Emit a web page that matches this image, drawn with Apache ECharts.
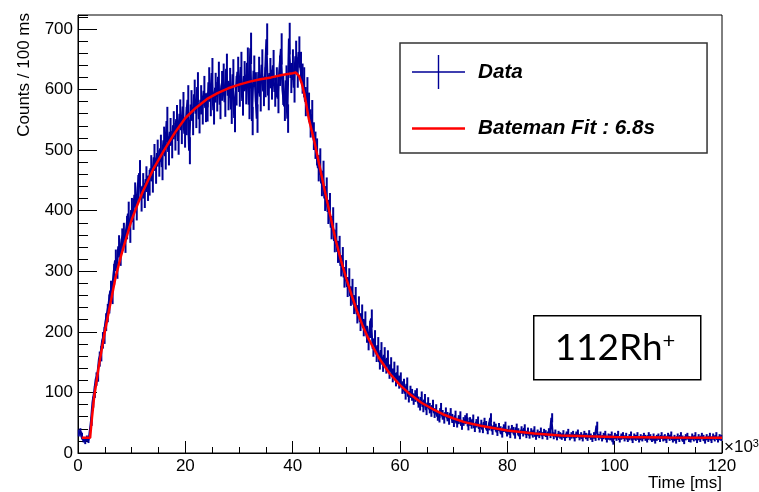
<!DOCTYPE html>
<html><head><meta charset="utf-8">
<script src="https://cdn.jsdelivr.net/npm/echarts@6/dist/echarts.min.js"></script>
<style>html,body{margin:0;padding:0;background:#fff}#c{width:759px;height:492px}</style>
</head><body><div id="c"></div>
<script>
// ---- data (time in units of 10^3 ms) ----
const xTickLabels = [0, 20, 40, 60, 80, 100, 120];
const yTickLabels = [0, 100, 200, 300, 400, 500, 600, 700];
const yMax = 723;
const binWidth = 0.3;
const counts = [
 33, 35, 28, 22, 19, 24, 21, 30, 52, 84,
 101, 122, 129, 155, 164, 186, 194, 216, 231, 246,
 268, 262, 295, 318, 305, 341, 327, 352, 361, 349,
 372, 395, 366, 401, 388, 426, 404, 438, 462, 419,
 441, 425, 452, 437, 446, 470, 451, 488, 466, 495,
 478, 503, 472, 516, 490, 548, 497, 530, 509, 541,
 522, 551, 515, 560, 533, 572, 527, 548, 583, 499,
 575, 548, 592, 560, 604, 551, 583, 566, 598, 570,
 571, 612, 580, 627, 566, 603, 588, 621, 575, 606,
 618, 579, 634, 590, 611, 567, 625, 553, 598, 629,
 596, 637, 581, 622, 600, 644, 575, 668, 548, 631,
 604, 552, 629, 588, 641, 597, 612, 683, 590, 627,
 608, 640, 596, 612, 585, 631, 667, 599, 572, 615,
 552, 684, 619, 641, 603, 655, 628, 662, 637, 618,
 612, 580, 596, 571, 544, 559, 523, 508, 497, 470,
 481, 445, 461, 420, 434, 398, 409, 372, 386, 350,
 361, 332, 340, 309, 322, 290, 301, 274, 288, 259,
 271, 245, 258, 229, 243, 216, 230, 207, 219, 196,
 183, 204, 222, 172, 189, 163, 178, 150, 170, 146,
 162, 143, 157, 134, 146, 128, 139, 121, 133, 117,
 122, 108, 112, 98, 114, 93, 101, 96, 89, 94,
 97, 84, 79, 92, 76, 88, 71, 83, 74, 68,
 79, 66, 72, 61, 58, 74, 63, 56, 67, 60,
 54, 66, 57, 50, 62, 49, 55, 61, 45, 52,
 55, 58, 44, 52, 47, 56, 41, 49, 53, 40,
 48, 39, 51, 46, 37, 44, 58, 36, 45, 42,
 34, 43, 38, 31, 41, 45, 33, 39, 30, 40,
 37, 29, 42, 35, 28, 38, 33, 41, 30, 36,
 29, 35, 31, 38, 27, 33, 30, 36, 28, 34,
 32, 27, 35, 30, 58, 28, 33, 26, 31, 29,
 27, 32, 25, 30, 34, 26, 29, 31, 24, 30,
 33, 26, 29, 24, 31, 28, 25, 32, 27, 23,
 29, 25, 45, 26, 30, 24, 28, 31, 22, 27,
 26, 30, 18, 28, 25, 31, 22, 27, 29, 24,
 28, 23, 26, 30, 21, 27, 25, 29, 22, 26,
 24, 28, 25, 22, 29, 26, 23, 27, 20, 25,
 27, 23, 29, 24, 26, 21, 28, 25, 30, 22,
 25, 20, 27, 23, 29, 24, 19, 26, 28, 23,
 22, 27, 24, 29, 21, 26, 23, 28, 25, 20,
 26, 23, 28, 21, 27, 24, 29, 22, 26, 25
];
const fitTime = [0.7, 2.25, 2.6, 3, 4, 5, 6, 7, 8, 9, 10, 11, 12, 14, 16, 18, 20, 22, 24, 26, 28, 30, 32, 34, 36, 38, 40, 40.6, 41.2, 41.7, 42.2, 43, 44, 45, 46, 47, 48, 49, 50, 51, 52, 53, 54, 56, 58, 60, 62, 64, 66, 68, 70, 72, 75, 80, 85, 90, 95, 100, 110, 120];
const fitCounts = [25, 25, 58, 92, 150, 200, 245, 290, 325, 355, 385, 408, 430, 468, 499, 528, 553, 570, 584, 594, 602, 608, 613, 617, 620, 624, 627, 628, 622, 610, 592, 552, 516, 474, 432, 392, 352, 318, 288, 260, 234, 211, 191, 158, 132, 112, 96, 83, 73, 64, 57, 51, 45, 37, 32, 29, 27.5, 26.5, 25.5, 25];
const seriesNames = ['Data', 'Bateman Fit : 6.8s'];
const xName = 'Time [ms]';
const yName = 'Counts / 100 ms';
const isotope = '112Rh';

// ---- chart ----
const FONT = 'Liberation Sans';
const dataColor = '#000096';
const fitColor = '#ff0000';
const dataPts = counts.map((c, i) => [(i + 0.5) * binWidth, c]);
const errPts = counts.map((c, i) => [(i + 0.5) * binWidth, c, Math.sqrt(c)]);
const fitPts = fitTime.map((t, i) => [t, fitCounts[i]]);

const chart = echarts.init(document.getElementById('c'));
const labelStyle = { color: '#000', fontSize: 17, fontFamily: FONT };
chart.setOption({
  animation: false,
  backgroundColor: '#fff',
  grid: { left: 78, right: 37, top: 15, bottom: 39, show: true, borderColor: '#000', borderWidth: 1, outerBoundsMode: 'none', containLabel: false },
  xAxis: {
    type: 'value', min: xTickLabels[0], max: xTickLabels[xTickLabels.length - 1], interval: xTickLabels[1] - xTickLabels[0],
    axisLine: { show: true, onZero: false, lineStyle: { color: '#000', width: 1 } },
    axisTick: { show: true, inside: true, length: 12, lineStyle: { color: '#000', width: 1 } },
    minorTick: { show: true, splitNumber: 4, length: 6, lineStyle: { color: '#000', width: 1 } },
    splitLine: { show: false }, minorSplitLine: { show: false },
    axisLabel: Object.assign({ margin: 5 }, labelStyle),
    name: xName, nameLocation: 'end', nameGap: 0, nameMoveOverlap: false,
    nameTextStyle: Object.assign({ align: 'right', verticalAlign: 'top', padding: [22, 0, 0, 0] }, labelStyle)
  },
  yAxis: [{
    type: 'value', min: yTickLabels[0], max: yMax, interval: yTickLabels[1] - yTickLabels[0], position: 'left',
    axisLine: { show: true, onZero: false, lineStyle: { color: '#000', width: 1 } },
    axisTick: { show: true, inside: true, length: 19, lineStyle: { color: '#000', width: 1 } },
    minorTick: { show: false }, splitLine: { show: false },
    axisLabel: Object.assign({ margin: 5, showMaxLabel: false }, labelStyle),
    name: yName, nameLocation: 'end', nameRotate: 90, nameGap: 2, nameMoveOverlap: false,
    nameTextStyle: Object.assign({ align: 'right', verticalAlign: 'bottom', padding: [0, 0, 45, 0] }, labelStyle)
  }, {
    type: 'value', min: yTickLabels[0], max: yMax, interval: (yTickLabels[1] - yTickLabels[0]) / 5, position: 'left', offset: 0,
    axisLine: { show: false },
    axisTick: { show: true, inside: true, length: 10, lineStyle: { color: '#000', width: 1 } },
    axisLabel: { show: false }, splitLine: { show: false }
  }],
  legend: {
    show: true, orient: 'vertical', left: 400, top: 43,
    padding: [12, 52, 14, 12], itemGap: 29, itemWidth: 53, itemHeight: 34,
    borderColor: '#333', borderWidth: 1.5, backgroundColor: '#fff', selectedMode: false,
    textStyle: { fontFamily: FONT, fontSize: 20.7, fontWeight: 'bold', fontStyle: 'italic', color: '#000', padding: [0, 0, 0, 8] },
    itemStyle: { borderWidth: 0 },
    data: [
      { name: seriesNames[0], icon: 'path://M0,16.3H53V17.7H0ZM25.8,0H27.2V34H25.8Z' },
      { name: seriesNames[1], icon: 'path://M0,0H53V2.6H0Z' }
    ]
  },
  series: [{
    name: seriesNames[0], type: 'line', data: dataPts, step: 'middle', showSymbol: false, symbol: 'none',
    lineStyle: { color: dataColor, width: 2 }, itemStyle: { color: dataColor }, z: 2, silent: true, sampling: null
  }, {
    name: seriesNames[0], type: 'custom', data: errPts, z: 2, silent: true,
    encode: { x: 0, y: 1 },
    renderItem: function (params, api) {
      const x = api.value(0), y = api.value(1), e = api.value(2);
      const a = api.coord([x, y + e]), b = api.coord([x, y - e]);
      return { type: 'line', shape: { x1: a[0], y1: a[1], x2: b[0], y2: b[1] }, style: { stroke: dataColor, lineWidth: 2 } };
    }
  }, {
    name: seriesNames[1], type: 'line', data: fitPts, showSymbol: false, symbol: 'none', smooth: false,
    lineStyle: { color: fitColor, width: 2.5 }, itemStyle: { color: fitColor }, z: 5, silent: true
  }],
  graphic: [
    { type: 'rect', left: 533, top: 315, shape: { x: 0, y: 0, width: 167, height: 64 }, style: { fill: '#fff', stroke: '#000', lineWidth: 1.5 }, z: 10 },
    { type: 'text', x: 615, y: 348, z: 11, style: {
        text: '{a|' + isotope + '}{b|+}', align: 'center', verticalAlign: 'middle',
        rich: { a: { fontFamily: 'Lato', fontSize: 37, fill: '#000' }, b: { fontFamily: 'Lato', fontSize: 22, fill: '#000', verticalAlign: 'top' } } } },
    { type: 'text', x: 724, y: 447, z: 11, style: {
        text: '×10{s|3}', fontFamily: FONT, fontSize: 17, fill: '#000', align: 'left', verticalAlign: 'middle',
        rich: { s: { fontFamily: FONT, fontSize: 11, fill: '#000', verticalAlign: 'top' } } } }
  ]
});
</script></body></html>
